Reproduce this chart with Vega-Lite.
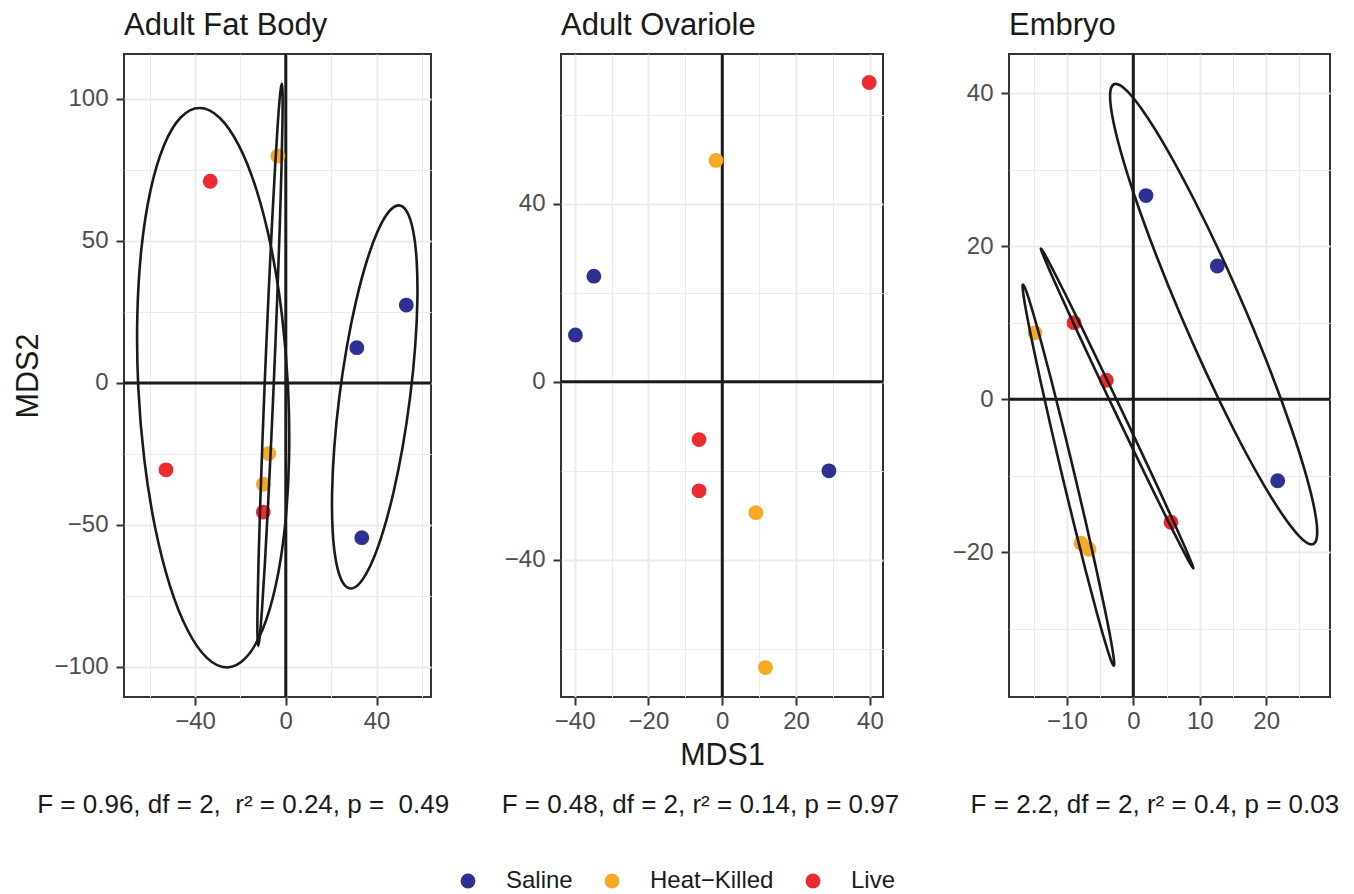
{
  "$schema": "https://vega.github.io/schema/vega-lite/v6.json",
  "background": "white",
  "padding": {"left": 12, "top": 8, "right": 14, "bottom": 4},
  "config": {
    "font": "Liberation Sans",
    "view": {"stroke": "#333333", "strokeWidth": 2},
    "axis": {
      "domain": false,
      "grid": true,
      "gridColor": "#EBEBEB",
      "labelFontSize": 24,
      "labelColor": "#4D4D4D",
      "labelOverlap": false,
      "labelFlush": false,
      "tickColor": "#333333",
      "tickWidth": 2,
      "tickSize": 8,
      "titleFontSize": 30.5,
      "titleFontWeight": "normal",
      "titleColor": "#1A1A1A"
    },
    "axisX": {"labelPadding": 4, "titlePadding": 7},
    "axisY": {"labelPadding": 8, "titlePadding": 10},
    "title": {"fontSize": 31, "fontWeight": "normal", "color": "#1A1A1A", "anchor": "start", "frame": "group", "offset": 11},
    "legend": {
      "orient": "bottom",
      "direction": "horizontal",
      "labelFontSize": 24,
      "labelColor": "#1A1A1A",
      "symbolType": "circle",
      "symbolSize": 220,
      "symbolStrokeWidth": 0,
      "labelOffset": 26,
      "columnPadding": 27,
      "offset": 50.5,
      "layout": {"bottom": {"anchor": "middle"}}
    }
  },
  "datasets": {
    "points": [
      {"panel": "Adult Fat Body", "treatment": "Live", "MDS1": -33.3, "MDS2": 71.0},
      {"panel": "Adult Fat Body", "treatment": "Live", "MDS1": -52.8, "MDS2": -30.6},
      {"panel": "Adult Fat Body", "treatment": "Live", "MDS1": -9.9, "MDS2": -45.5},
      {"panel": "Adult Fat Body", "treatment": "Heat-Killed", "MDS1": -3.5, "MDS2": 79.9},
      {"panel": "Adult Fat Body", "treatment": "Heat-Killed", "MDS1": -7.5, "MDS2": -24.9},
      {"panel": "Adult Fat Body", "treatment": "Heat-Killed", "MDS1": -9.9, "MDS2": -35.7},
      {"panel": "Adult Fat Body", "treatment": "Saline", "MDS1": 53.1, "MDS2": 27.4},
      {"panel": "Adult Fat Body", "treatment": "Saline", "MDS1": 31.3, "MDS2": 12.4},
      {"panel": "Adult Fat Body", "treatment": "Saline", "MDS1": 33.5, "MDS2": -54.5},
      {"panel": "Adult Ovariole", "treatment": "Live", "MDS1": 39.8, "MDS2": 67.2},
      {"panel": "Adult Ovariole", "treatment": "Live", "MDS1": -6.3, "MDS2": -13.0},
      {"panel": "Adult Ovariole", "treatment": "Live", "MDS1": -6.3, "MDS2": -24.5},
      {"panel": "Adult Ovariole", "treatment": "Heat-Killed", "MDS1": -1.7, "MDS2": 49.7},
      {"panel": "Adult Ovariole", "treatment": "Heat-Killed", "MDS1": 9.1, "MDS2": -29.4},
      {"panel": "Adult Ovariole", "treatment": "Heat-Killed", "MDS1": 11.7, "MDS2": -64.2},
      {"panel": "Adult Ovariole", "treatment": "Saline", "MDS1": -34.8, "MDS2": 23.7},
      {"panel": "Adult Ovariole", "treatment": "Saline", "MDS1": -39.8, "MDS2": 10.5},
      {"panel": "Adult Ovariole", "treatment": "Saline", "MDS1": 28.9, "MDS2": -20.0},
      {"panel": "Embryo", "treatment": "Live", "MDS1": -8.92, "MDS2": 10.0},
      {"panel": "Embryo", "treatment": "Live", "MDS1": -4.06, "MDS2": 2.48},
      {"panel": "Embryo", "treatment": "Live", "MDS1": 5.67, "MDS2": -16.07},
      {"panel": "Embryo", "treatment": "Heat-Killed", "MDS1": -14.8, "MDS2": 8.67},
      {"panel": "Embryo", "treatment": "Heat-Killed", "MDS1": -7.87, "MDS2": -18.8},
      {"panel": "Embryo", "treatment": "Heat-Killed", "MDS1": -6.67, "MDS2": -19.6},
      {"panel": "Embryo", "treatment": "Saline", "MDS1": 1.91, "MDS2": 26.6},
      {"panel": "Embryo", "treatment": "Saline", "MDS1": 12.64, "MDS2": 17.4},
      {"panel": "Embryo", "treatment": "Saline", "MDS1": 21.73, "MDS2": -10.65}
    ],
    "ellipses": [
      {"panel": "Adult Fat Body", "group": "Live", "t": 0, "MDS1": -38.0, "MDS2": 96.8},
      {"panel": "Adult Fat Body", "group": "Live", "t": 15, "MDS1": -29.26, "MDS2": 93.44},
      {"panel": "Adult Fat Body", "group": "Live", "t": 30, "MDS1": -20.7, "MDS2": 83.6},
      {"panel": "Adult Fat Body", "group": "Live", "t": 45, "MDS1": -12.91, "MDS2": 67.95},
      {"panel": "Adult Fat Body", "group": "Live", "t": 60, "MDS1": -6.42, "MDS2": 47.55},
      {"panel": "Adult Fat Body", "group": "Live", "t": 75, "MDS1": -1.68, "MDS2": 23.79},
      {"panel": "Adult Fat Body", "group": "Live", "t": 90, "MDS1": 1.0, "MDS2": -1.7},
      {"panel": "Adult Fat Body", "group": "Live", "t": 105, "MDS1": 1.42, "MDS2": -27.19},
      {"panel": "Adult Fat Body", "group": "Live", "t": 120, "MDS1": -0.42, "MDS2": -50.95},
      {"panel": "Adult Fat Body", "group": "Live", "t": 135, "MDS1": -4.43, "MDS2": -71.35},
      {"panel": "Adult Fat Body", "group": "Live", "t": 150, "MDS1": -10.3, "MDS2": -87.0},
      {"panel": "Adult Fat Body", "group": "Live", "t": 165, "MDS1": -17.67, "MDS2": -96.84},
      {"panel": "Adult Fat Body", "group": "Live", "t": 180, "MDS1": -26.0, "MDS2": -100.2},
      {"panel": "Adult Fat Body", "group": "Live", "t": 195, "MDS1": -34.75, "MDS2": -96.84},
      {"panel": "Adult Fat Body", "group": "Live", "t": 210, "MDS1": -43.3, "MDS2": -87.0},
      {"panel": "Adult Fat Body", "group": "Live", "t": 225, "MDS1": -51.09, "MDS2": -71.35},
      {"panel": "Adult Fat Body", "group": "Live", "t": 240, "MDS1": -57.58, "MDS2": -50.95},
      {"panel": "Adult Fat Body", "group": "Live", "t": 255, "MDS1": -62.32, "MDS2": -27.19},
      {"panel": "Adult Fat Body", "group": "Live", "t": 270, "MDS1": -65.0, "MDS2": -1.7},
      {"panel": "Adult Fat Body", "group": "Live", "t": 285, "MDS1": -65.42, "MDS2": 23.79},
      {"panel": "Adult Fat Body", "group": "Live", "t": 300, "MDS1": -63.58, "MDS2": 47.55},
      {"panel": "Adult Fat Body", "group": "Live", "t": 315, "MDS1": -59.57, "MDS2": 67.95},
      {"panel": "Adult Fat Body", "group": "Live", "t": 330, "MDS1": -53.7, "MDS2": 83.6},
      {"panel": "Adult Fat Body", "group": "Live", "t": 345, "MDS1": -46.34, "MDS2": 93.44},
      {"panel": "Adult Fat Body", "group": "Heat-Killed", "t": 0, "MDS1": -1.75, "MDS2": 105.4},
      {"panel": "Adult Fat Body", "group": "Heat-Killed", "t": 15, "MDS1": -1.41, "MDS2": 102.03},
      {"panel": "Adult Fat Body", "group": "Heat-Killed", "t": 30, "MDS1": -1.45, "MDS2": 92.14},
      {"panel": "Adult Fat Body", "group": "Heat-Killed", "t": 45, "MDS1": -1.86, "MDS2": 76.4},
      {"panel": "Adult Fat Body", "group": "Heat-Killed", "t": 60, "MDS1": -2.62, "MDS2": 55.9},
      {"panel": "Adult Fat Body", "group": "Heat-Killed", "t": 75, "MDS1": -3.67, "MDS2": 32.02},
      {"panel": "Adult Fat Body", "group": "Heat-Killed", "t": 90, "MDS1": -4.95, "MDS2": 6.4},
      {"panel": "Adult Fat Body", "group": "Heat-Killed", "t": 105, "MDS1": -6.36, "MDS2": -19.22},
      {"panel": "Adult Fat Body", "group": "Heat-Killed", "t": 120, "MDS1": -7.82, "MDS2": -43.1},
      {"panel": "Adult Fat Body", "group": "Heat-Killed", "t": 135, "MDS1": -9.21, "MDS2": -63.6},
      {"panel": "Adult Fat Body", "group": "Heat-Killed", "t": 150, "MDS1": -10.45, "MDS2": -79.34},
      {"panel": "Adult Fat Body", "group": "Heat-Killed", "t": 165, "MDS1": -11.46, "MDS2": -89.23},
      {"panel": "Adult Fat Body", "group": "Heat-Killed", "t": 180, "MDS1": -12.15, "MDS2": -92.6},
      {"panel": "Adult Fat Body", "group": "Heat-Killed", "t": 195, "MDS1": -12.49, "MDS2": -89.23},
      {"panel": "Adult Fat Body", "group": "Heat-Killed", "t": 210, "MDS1": -12.45, "MDS2": -79.34},
      {"panel": "Adult Fat Body", "group": "Heat-Killed", "t": 225, "MDS1": -12.04, "MDS2": -63.6},
      {"panel": "Adult Fat Body", "group": "Heat-Killed", "t": 240, "MDS1": -11.28, "MDS2": -43.1},
      {"panel": "Adult Fat Body", "group": "Heat-Killed", "t": 255, "MDS1": -10.23, "MDS2": -19.22},
      {"panel": "Adult Fat Body", "group": "Heat-Killed", "t": 270, "MDS1": -8.95, "MDS2": 6.4},
      {"panel": "Adult Fat Body", "group": "Heat-Killed", "t": 285, "MDS1": -7.54, "MDS2": 32.02},
      {"panel": "Adult Fat Body", "group": "Heat-Killed", "t": 300, "MDS1": -6.08, "MDS2": 55.9},
      {"panel": "Adult Fat Body", "group": "Heat-Killed", "t": 315, "MDS1": -4.69, "MDS2": 76.4},
      {"panel": "Adult Fat Body", "group": "Heat-Killed", "t": 330, "MDS1": -3.45, "MDS2": 92.14},
      {"panel": "Adult Fat Body", "group": "Heat-Killed", "t": 345, "MDS1": -2.45, "MDS2": 102.03},
      {"panel": "Adult Fat Body", "group": "Saline", "t": 0, "MDS1": 49.76, "MDS2": 62.5},
      {"panel": "Adult Fat Body", "group": "Saline", "t": 15, "MDS1": 53.44, "MDS2": 60.2},
      {"panel": "Adult Fat Body", "group": "Saline", "t": 30, "MDS1": 56.15, "MDS2": 53.46},
      {"panel": "Adult Fat Body", "group": "Saline", "t": 45, "MDS1": 57.7, "MDS2": 42.74},
      {"panel": "Adult Fat Body", "group": "Saline", "t": 60, "MDS1": 57.99, "MDS2": 28.78},
      {"panel": "Adult Fat Body", "group": "Saline", "t": 75, "MDS1": 57.0, "MDS2": 12.51},
      {"panel": "Adult Fat Body", "group": "Saline", "t": 90, "MDS1": 54.8, "MDS2": -4.95},
      {"panel": "Adult Fat Body", "group": "Saline", "t": 105, "MDS1": 51.54, "MDS2": -22.41},
      {"panel": "Adult Fat Body", "group": "Saline", "t": 120, "MDS1": 47.43, "MDS2": -38.68},
      {"panel": "Adult Fat Body", "group": "Saline", "t": 135, "MDS1": 42.76, "MDS2": -52.64},
      {"panel": "Adult Fat Body", "group": "Saline", "t": 150, "MDS1": 37.86, "MDS2": -63.36},
      {"panel": "Adult Fat Body", "group": "Saline", "t": 165, "MDS1": 33.04, "MDS2": -70.1},
      {"panel": "Adult Fat Body", "group": "Saline", "t": 180, "MDS1": 28.64, "MDS2": -72.4},
      {"panel": "Adult Fat Body", "group": "Saline", "t": 195, "MDS1": 24.96, "MDS2": -70.1},
      {"panel": "Adult Fat Body", "group": "Saline", "t": 210, "MDS1": 22.26, "MDS2": -63.36},
      {"panel": "Adult Fat Body", "group": "Saline", "t": 225, "MDS1": 20.7, "MDS2": -52.64},
      {"panel": "Adult Fat Body", "group": "Saline", "t": 240, "MDS1": 20.41, "MDS2": -38.68},
      {"panel": "Adult Fat Body", "group": "Saline", "t": 255, "MDS1": 21.4, "MDS2": -22.41},
      {"panel": "Adult Fat Body", "group": "Saline", "t": 270, "MDS1": 23.6, "MDS2": -4.95},
      {"panel": "Adult Fat Body", "group": "Saline", "t": 285, "MDS1": 26.86, "MDS2": 12.51},
      {"panel": "Adult Fat Body", "group": "Saline", "t": 300, "MDS1": 30.97, "MDS2": 28.78},
      {"panel": "Adult Fat Body", "group": "Saline", "t": 315, "MDS1": 35.64, "MDS2": 42.74},
      {"panel": "Adult Fat Body", "group": "Saline", "t": 330, "MDS1": 40.55, "MDS2": 53.46},
      {"panel": "Adult Fat Body", "group": "Saline", "t": 345, "MDS1": 45.36, "MDS2": 60.2},
      {"panel": "Embryo", "group": "Saline", "t": 0, "MDS1": -2.65, "MDS2": 41.2},
      {"panel": "Embryo", "group": "Saline", "t": 15, "MDS1": -0.84, "MDS2": 40.18},
      {"panel": "Embryo", "group": "Saline", "t": 30, "MDS1": 1.85, "MDS2": 37.17},
      {"panel": "Embryo", "group": "Saline", "t": 45, "MDS1": 5.24, "MDS2": 32.39},
      {"panel": "Embryo", "group": "Saline", "t": 60, "MDS1": 9.09, "MDS2": 26.16},
      {"panel": "Embryo", "group": "Saline", "t": 75, "MDS1": 13.16, "MDS2": 18.91},
      {"panel": "Embryo", "group": "Saline", "t": 90, "MDS1": 17.14, "MDS2": 11.12},
      {"panel": "Embryo", "group": "Saline", "t": 105, "MDS1": 20.79, "MDS2": 3.34},
      {"panel": "Embryo", "group": "Saline", "t": 120, "MDS1": 23.83, "MDS2": -3.92},
      {"panel": "Embryo", "group": "Saline", "t": 135, "MDS1": 26.08, "MDS2": -10.15},
      {"panel": "Embryo", "group": "Saline", "t": 150, "MDS1": 27.38, "MDS2": -14.93},
      {"panel": "Embryo", "group": "Saline", "t": 165, "MDS1": 27.64, "MDS2": -17.94},
      {"panel": "Embryo", "group": "Saline", "t": 180, "MDS1": 26.83, "MDS2": -18.96},
      {"panel": "Embryo", "group": "Saline", "t": 195, "MDS1": 25.02, "MDS2": -17.94},
      {"panel": "Embryo", "group": "Saline", "t": 210, "MDS1": 22.33, "MDS2": -14.93},
      {"panel": "Embryo", "group": "Saline", "t": 225, "MDS1": 18.94, "MDS2": -10.15},
      {"panel": "Embryo", "group": "Saline", "t": 240, "MDS1": 15.09, "MDS2": -3.92},
      {"panel": "Embryo", "group": "Saline", "t": 255, "MDS1": 11.03, "MDS2": 3.34},
      {"panel": "Embryo", "group": "Saline", "t": 270, "MDS1": 7.04, "MDS2": 11.12},
      {"panel": "Embryo", "group": "Saline", "t": 285, "MDS1": 3.4, "MDS2": 18.91},
      {"panel": "Embryo", "group": "Saline", "t": 300, "MDS1": 0.35, "MDS2": 26.16},
      {"panel": "Embryo", "group": "Saline", "t": 315, "MDS1": -1.9, "MDS2": 32.39},
      {"panel": "Embryo", "group": "Saline", "t": 330, "MDS1": -3.2, "MDS2": 37.17},
      {"panel": "Embryo", "group": "Saline", "t": 345, "MDS1": -3.46, "MDS2": 40.18},
      {"panel": "Embryo", "group": "Live", "t": 0, "MDS1": -13.9, "MDS2": 19.7},
      {"panel": "Embryo", "group": "Live", "t": 15, "MDS1": -13.37, "MDS2": 18.99},
      {"panel": "Embryo", "group": "Live", "t": 30, "MDS1": -12.09, "MDS2": 16.9},
      {"panel": "Embryo", "group": "Live", "t": 45, "MDS1": -10.15, "MDS2": 13.58},
      {"panel": "Embryo", "group": "Live", "t": 60, "MDS1": -7.69, "MDS2": 9.25},
      {"panel": "Embryo", "group": "Live", "t": 75, "MDS1": -4.88, "MDS2": 4.21},
      {"panel": "Embryo", "group": "Live", "t": 90, "MDS1": -1.89, "MDS2": -1.2},
      {"panel": "Embryo", "group": "Live", "t": 105, "MDS1": 1.06, "MDS2": -6.61},
      {"panel": "Embryo", "group": "Live", "t": 120, "MDS1": 3.77, "MDS2": -11.65},
      {"panel": "Embryo", "group": "Live", "t": 135, "MDS1": 6.05, "MDS2": -15.98},
      {"panel": "Embryo", "group": "Live", "t": 150, "MDS1": 7.76, "MDS2": -19.3},
      {"panel": "Embryo", "group": "Live", "t": 165, "MDS1": 8.77, "MDS2": -21.39},
      {"panel": "Embryo", "group": "Live", "t": 180, "MDS1": 9.02, "MDS2": -22.1},
      {"panel": "Embryo", "group": "Live", "t": 195, "MDS1": 8.49, "MDS2": -21.39},
      {"panel": "Embryo", "group": "Live", "t": 210, "MDS1": 7.21, "MDS2": -19.3},
      {"panel": "Embryo", "group": "Live", "t": 225, "MDS1": 5.27, "MDS2": -15.98},
      {"panel": "Embryo", "group": "Live", "t": 240, "MDS1": 2.81, "MDS2": -11.65},
      {"panel": "Embryo", "group": "Live", "t": 255, "MDS1": 0.0, "MDS2": -6.61},
      {"panel": "Embryo", "group": "Live", "t": 270, "MDS1": -2.99, "MDS2": -1.2},
      {"panel": "Embryo", "group": "Live", "t": 285, "MDS1": -5.94, "MDS2": 4.21},
      {"panel": "Embryo", "group": "Live", "t": 300, "MDS1": -8.65, "MDS2": 9.25},
      {"panel": "Embryo", "group": "Live", "t": 315, "MDS1": -10.93, "MDS2": 13.58},
      {"panel": "Embryo", "group": "Live", "t": 330, "MDS1": -12.64, "MDS2": 16.9},
      {"panel": "Embryo", "group": "Live", "t": 345, "MDS1": -13.65, "MDS2": 18.99},
      {"panel": "Embryo", "group": "Heat-Killed", "t": 0, "MDS1": -16.6, "MDS2": 14.99},
      {"panel": "Embryo", "group": "Heat-Killed", "t": 15, "MDS1": -16.12, "MDS2": 14.14},
      {"panel": "Embryo", "group": "Heat-Killed", "t": 30, "MDS1": -15.21, "MDS2": 11.65},
      {"panel": "Embryo", "group": "Heat-Killed", "t": 45, "MDS1": -13.93, "MDS2": 7.7},
      {"panel": "Embryo", "group": "Heat-Killed", "t": 60, "MDS1": -12.36, "MDS2": 2.54},
      {"panel": "Embryo", "group": "Heat-Killed", "t": 75, "MDS1": -10.62, "MDS2": -3.47},
      {"panel": "Embryo", "group": "Heat-Killed", "t": 90, "MDS1": -8.82, "MDS2": -9.91},
      {"panel": "Embryo", "group": "Heat-Killed", "t": 105, "MDS1": -7.08, "MDS2": -16.35},
      {"panel": "Embryo", "group": "Heat-Killed", "t": 120, "MDS1": -5.53, "MDS2": -22.36},
      {"panel": "Embryo", "group": "Heat-Killed", "t": 135, "MDS1": -4.27, "MDS2": -27.52},
      {"panel": "Embryo", "group": "Heat-Killed", "t": 150, "MDS1": -3.38, "MDS2": -31.47},
      {"panel": "Embryo", "group": "Heat-Killed", "t": 165, "MDS1": -2.93, "MDS2": -33.96},
      {"panel": "Embryo", "group": "Heat-Killed", "t": 180, "MDS1": -2.94, "MDS2": -34.81},
      {"panel": "Embryo", "group": "Heat-Killed", "t": 195, "MDS1": -3.42, "MDS2": -33.96},
      {"panel": "Embryo", "group": "Heat-Killed", "t": 210, "MDS1": -4.33, "MDS2": -31.47},
      {"panel": "Embryo", "group": "Heat-Killed", "t": 225, "MDS1": -5.61, "MDS2": -27.52},
      {"panel": "Embryo", "group": "Heat-Killed", "t": 240, "MDS1": -7.18, "MDS2": -22.36},
      {"panel": "Embryo", "group": "Heat-Killed", "t": 255, "MDS1": -8.92, "MDS2": -16.35},
      {"panel": "Embryo", "group": "Heat-Killed", "t": 270, "MDS1": -10.72, "MDS2": -9.91},
      {"panel": "Embryo", "group": "Heat-Killed", "t": 285, "MDS1": -12.46, "MDS2": -3.47},
      {"panel": "Embryo", "group": "Heat-Killed", "t": 300, "MDS1": -14.01, "MDS2": 2.54},
      {"panel": "Embryo", "group": "Heat-Killed", "t": 315, "MDS1": -15.27, "MDS2": 7.7},
      {"panel": "Embryo", "group": "Heat-Killed", "t": 330, "MDS1": -16.16, "MDS2": 11.65},
      {"panel": "Embryo", "group": "Heat-Killed", "t": 345, "MDS1": -16.61, "MDS2": 14.14}
    ]
  },
  "spacing": 51,
  "hconcat": [
    {
      "title": {"text": "F = 0.96, df = 2, \u00a0r² = 0.24, p = \u00a00.49", "orient": "bottom", "anchor": "middle", "frame": "bounds", "fontSize": 26, "offset": 58, "dx": 20},
      "vconcat": [
        {
          "width": 307,
          "height": 643,
          "title": {"text": "Adult Fat Body"},
          "layer": [
            {"data": {"values": [{}]}, "mark": {"type": "rule", "color": "#1A1A1A", "strokeWidth": 3}, "encoding": {"x": {"datum": 0, "type": "quantitative"}}},
            {"data": {"values": [{}]}, "mark": {"type": "rule", "color": "#1A1A1A", "strokeWidth": 3}, "encoding": {"y": {"datum": 0, "type": "quantitative"}}},
            {
              "data": {"name": "points"},
              "transform": [{"filter": "datum.panel === 'Adult Fat Body'"}],
              "mark": {"type": "circle", "size": 220, "opacity": 1},
              "encoding": {
                "x": {"field": "MDS1", "type": "quantitative", "scale": {"domain": [-71.3, 64.0], "nice": false, "zero": false},
                  "axis": {"title": null, "grid": true, "values": [-60, -40, -20, 0, 20, 40, 60], "labelExpr": "datum.value % 40 === 0 ? datum.label : ''",
                    "gridWidth": {"condition": {"test": "datum.value % 40 === 0", "value": 2}, "value": 1},
                    "tickOpacity": {"condition": {"test": "datum.value % 40 === 0", "value": 1}, "value": 0}}},
                "y": {"field": "MDS2", "type": "quantitative", "scale": {"domain": [-110.6, 115.8], "nice": false, "zero": false},
                  "axis": {"title": "MDS2", "grid": true, "values": [-100, -75, -50, -25, 0, 25, 50, 75, 100], "labelExpr": "datum.value % 50 === 0 ? datum.label : ''",
                    "gridWidth": {"condition": {"test": "datum.value % 50 === 0", "value": 2}, "value": 1},
                    "tickOpacity": {"condition": {"test": "datum.value % 50 === 0", "value": 1}, "value": 0}}},
                "color": {"field": "treatment", "type": "nominal", "scale": {"domain": ["Saline", "Heat-Killed", "Live"], "range": ["#2E3192", "#F6A923", "#EC2A30"]},
                  "legend": {"title": null, "labelExpr": "replace(datum.label, '-', '−')"}}
              }
            },
            {
              "data": {"name": "ellipses"},
              "transform": [{"filter": "datum.panel === 'Adult Fat Body'"}],
              "mark": {"type": "line", "interpolate": "cardinal-closed", "color": "#1A1A1A", "strokeWidth": 2.6},
              "encoding": {
                "x": {"field": "MDS1", "type": "quantitative"},
                "y": {"field": "MDS2", "type": "quantitative"},
                "detail": {"field": "group", "type": "nominal"},
                "order": {"field": "t", "type": "quantitative"}
              }
            }
          ]
        }
      ]
    },
    {
      "title": {"text": "F = 0.48, df = 2, r² = 0.14, p = 0.97", "orient": "bottom", "anchor": "middle", "frame": "bounds", "fontSize": 26, "offset": 20.5, "dx": 6},
      "vconcat": [
        {
          "width": 322,
          "height": 643,
          "title": {"text": "Adult Ovariole"},
          "layer": [
            {"data": {"values": [{}]}, "mark": {"type": "rule", "color": "#1A1A1A", "strokeWidth": 3}, "encoding": {"x": {"datum": 0, "type": "quantitative"}}},
            {"data": {"values": [{}]}, "mark": {"type": "rule", "color": "#1A1A1A", "strokeWidth": 3}, "encoding": {"y": {"datum": 0, "type": "quantitative"}}},
            {
              "data": {"name": "points"},
              "transform": [{"filter": "datum.panel === 'Adult Ovariole'"}],
              "mark": {"type": "circle", "size": 220, "opacity": 1},
              "encoding": {
                "x": {"field": "MDS1", "type": "quantitative", "scale": {"domain": [-43.7, 43.55], "nice": false, "zero": false},
                  "axis": {"title": "MDS1", "grid": true, "values": [-40, -30, -20, -10, 0, 10, 20, 30, 40], "labelExpr": "datum.value % 20 === 0 ? datum.label : ''",
                    "gridWidth": {"condition": {"test": "datum.value % 20 === 0", "value": 2}, "value": 1},
                    "tickOpacity": {"condition": {"test": "datum.value % 20 === 0", "value": 1}, "value": 0}}},
                "y": {"field": "MDS2", "type": "quantitative", "scale": {"domain": [-70.8, 73.6], "nice": false, "zero": false},
                  "axis": {"title": null, "grid": true, "values": [-60, -40, -20, 0, 20, 40, 60], "labelExpr": "datum.value % 40 === 0 ? datum.label : ''",
                    "gridWidth": {"condition": {"test": "datum.value % 40 === 0", "value": 2}, "value": 1},
                    "tickOpacity": {"condition": {"test": "datum.value % 40 === 0", "value": 1}, "value": 0}}},
                "color": {"field": "treatment", "type": "nominal", "scale": {"domain": ["Saline", "Heat-Killed", "Live"], "range": ["#2E3192", "#F6A923", "#EC2A30"]},
                  "legend": {"title": null, "labelExpr": "replace(datum.label, '-', '−')"}}
              }
            }
          ]
        }
      ]
    },
    {
      "title": {"text": "F = 2.2, df = 2, r² = 0.4, p = 0.03", "orient": "bottom", "anchor": "middle", "frame": "bounds", "fontSize": 26, "offset": 58, "dx": 13},
      "vconcat": [
        {
          "width": 321,
          "height": 643,
          "title": {"text": "Embryo"},
          "layer": [
            {"data": {"values": [{}]}, "mark": {"type": "rule", "color": "#1A1A1A", "strokeWidth": 3}, "encoding": {"x": {"datum": 0, "type": "quantitative"}}},
            {"data": {"values": [{}]}, "mark": {"type": "rule", "color": "#1A1A1A", "strokeWidth": 3}, "encoding": {"y": {"datum": 0, "type": "quantitative"}}},
            {
              "data": {"name": "points"},
              "transform": [{"filter": "datum.panel === 'Embryo'"}],
              "mark": {"type": "circle", "size": 220, "opacity": 1},
              "encoding": {
                "x": {"field": "MDS1", "type": "quantitative", "scale": {"domain": [-18.71, 29.6], "nice": false, "zero": false},
                  "axis": {"title": null, "grid": true, "values": [-15, -10, -5, 0, 5, 10, 15, 20, 25], "labelExpr": "datum.value % 10 === 0 ? datum.label : ''",
                    "gridWidth": {"condition": {"test": "datum.value % 10 === 0", "value": 2}, "value": 1},
                    "tickOpacity": {"condition": {"test": "datum.value % 10 === 0", "value": 1}, "value": 0}}},
                "y": {"field": "MDS2", "type": "quantitative", "scale": {"domain": [-38.9, 45.1], "nice": false, "zero": false},
                  "axis": {"title": null, "grid": true, "values": [-30, -20, -10, 0, 10, 20, 30, 40], "labelExpr": "datum.value % 20 === 0 ? datum.label : ''",
                    "gridWidth": {"condition": {"test": "datum.value % 20 === 0", "value": 2}, "value": 1},
                    "tickOpacity": {"condition": {"test": "datum.value % 20 === 0", "value": 1}, "value": 0}}},
                "color": {"field": "treatment", "type": "nominal", "scale": {"domain": ["Saline", "Heat-Killed", "Live"], "range": ["#2E3192", "#F6A923", "#EC2A30"]},
                  "legend": {"title": null, "labelExpr": "replace(datum.label, '-', '−')"}}
              }
            },
            {
              "data": {"name": "ellipses"},
              "transform": [{"filter": "datum.panel === 'Embryo'"}],
              "mark": {"type": "line", "interpolate": "cardinal-closed", "color": "#1A1A1A", "strokeWidth": 2.6},
              "encoding": {
                "x": {"field": "MDS1", "type": "quantitative"},
                "y": {"field": "MDS2", "type": "quantitative"},
                "detail": {"field": "group", "type": "nominal"},
                "order": {"field": "t", "type": "quantitative"}
              }
            }
          ]
        }
      ]
    }
  ]
}
